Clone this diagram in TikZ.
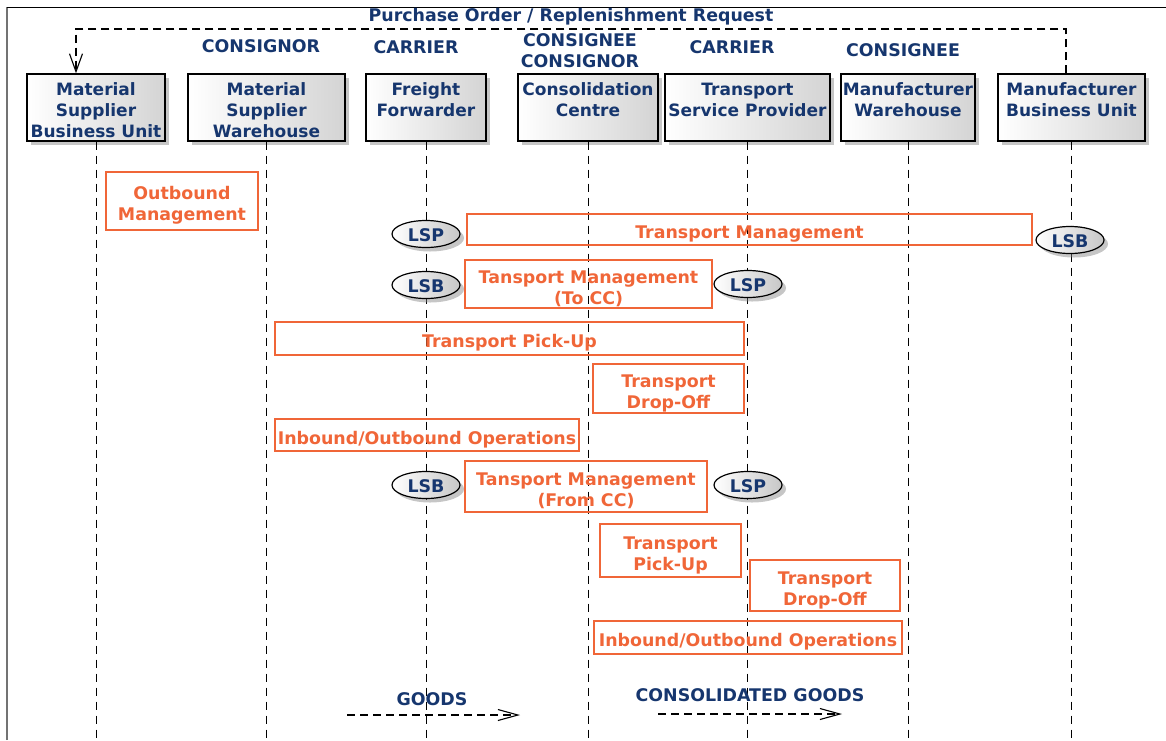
\documentclass[tikz,border=0pt]{standalone}
\usepackage{fontspec}
\setmainfont{DejaVu Sans}
\usetikzlibrary{shapes.geometric,shadows,arrows.meta}
\definecolor{navy}{RGB}{22,54,110}
\definecolor{orng}{RGB}{240,102,56}
\begin{document}
\begin{tikzpicture}[x=1pt,y=-1pt,
  font=\bfseries\fontsize{17.4}{21}\selectfont,
  actor/.style={draw=black, line width=1.4pt, left color=white, right color=black!17,
    drop shadow={shadow xshift=4pt,shadow yshift=-4pt,opacity=0.45}, inner sep=0pt, minimum height=67},
  hdr/.style={text=navy, align=center, inner sep=0pt, anchor=north, font=\bfseries\fontsize{17}{21}\selectfont},
  role/.style={text=navy, inner sep=0pt},
  act/.style={draw=orng, line width=2.8pt, inner sep=0pt},
  acttext/.style={text=orng, align=center, inner sep=0pt, yshift=-4.5pt},
  lsx/.style={ellipse, draw=black, line width=1.2pt, left color=white, right color=black!22,
    minimum width=68, minimum height=27, inner sep=0pt, text=navy,
    drop shadow={shadow xshift=4pt,shadow yshift=-4pt,opacity=0.45}},
  lsxtext/.style={text=navy, inner sep=0pt, yshift=-1.5pt},
  lifeline/.style={draw=black, line width=1pt, dash pattern=on 8pt off 6pt},
  msg/.style={draw=black, line width=1.1pt, dash pattern=on 8pt off 5pt},
]
\useasboundingbox (0,0) rectangle (1166,740);
% frame
\draw[black!55, line width=2.2pt] (7,740) -- (7,7);
\draw[black, line width=1pt] (7,7) -- (1166,7);

% header boxes
\node[actor, minimum width=138] (b1) at (96,107.5) {};
\node[actor, minimum width=157] (b2) at (266.5,107.5) {};
\node[actor, minimum width=120] (b3) at (426,107.5) {};
\node[actor, minimum width=140] (b4) at (588,107.5) {};
\node[actor, minimum width=165] (b5) at (747.5,107.5) {};
\node[actor, minimum width=134] (b6) at (908,107.5) {};
\node[actor, minimum width=147] (b7) at (1071.5,107.5) {};

\node[hdr] (t1) at ([yshift=-9.5pt]b1.north) {Material\\Supplier\\Business Unit};
\node[hdr] (t2) at ([yshift=-9.5pt]b2.north) {Material\\Supplier\\Warehouse};
\node[hdr] (t3) at ([yshift=-9.5pt]b3.north) {Freight\\Forwarder};
\node[hdr] (t4) at ([yshift=-9.5pt]b4.north) {Consolidation\\Centre};
\node[hdr] (t5) at ([yshift=-9.5pt]b5.north) {Transport\\Service Provider};
\node[hdr] (t6) at ([yshift=-9.5pt]b6.north) {Manufacturer\\Warehouse};
\node[hdr] (t7) at ([yshift=-9.5pt]b7.north) {Manufacturer\\Business Unit};

% role labels
\node[role] (r2) at (261,46) {CONSIGNOR};
\node[role] (r3) at (416,47) {CARRIER};
\node[role] (r4a) at (580,40) {CONSIGNEE};
\node[role] (r4b) at (580,61) {CONSIGNOR};
\node[role] (r5) at (732,47) {CARRIER};
\node[role] (r6) at (903,50) {CONSIGNEE};

% purchase order message
\node[role] (po) at (571,17) {Purchase Order / Replenishment Request};
\coordinate (pr) at (1066,29);
\coordinate (pl) at (76,29);
\draw[msg, -{Straight Barb[length=18pt,width=13pt]}] (b7.north -| pr) -- (pr) -- (pl) -- (pl |- b1.north);

% lifelines
\coordinate (bot) at (0,740);
\foreach \b in {b1,b2,b3,b4,b5,b6,b7}
  \draw[lifeline] (\b.south) -- (\b.south |- bot);

% activities
\node[act, minimum width=152, minimum height=58] (a1) at (182,201) {};
\node[acttext] at (a1.center) {Outbound\\Management};
\node[act, minimum width=565, minimum height=31] (a2) at (749.5,229.5) {};
\node[acttext] at (a2.center) {Transport Management};
\node[act, minimum width=247, minimum height=48] (a3) at (588.5,284) {};
\node[acttext] at (a3.center) {Tansport Management\\(To CC)};
\node[act, minimum width=469, minimum height=33] (a4) at (509.5,338.5) {};
\node[acttext] at (a4.center) {Transport Pick-Up};
\node[act, minimum width=151, minimum height=49] (a5) at (668.5,388.5) {};
\node[acttext] at (a5.center) {Transport\\Drop-Off};
\node[act, minimum width=304, minimum height=32] (a6) at (427,435) {};
\node[acttext] at (a6.center) {Inbound/Outbound Operations};
\node[act, minimum width=242, minimum height=51] (a7) at (586,486.5) {};
\node[acttext] at (a7.center) {Tansport Management\\(From CC)};
\node[act, minimum width=141, minimum height=53] (a8) at (670.5,550.5) {};
\node[acttext] at (a8.center) {Transport\\Pick-Up};
\node[act, minimum width=150, minimum height=51] (a9) at (825,585.5) {};
\node[acttext] at (a9.center) {Transport\\Drop-Off};
\node[act, minimum width=308, minimum height=33] (a10) at (748,637.5) {};
\node[acttext] at (a10.center) {Inbound/Outbound Operations};

% LSP / LSB ellipses
\node[lsx] (e1) at (426,234) {};
\node[lsxtext] at (e1.center) {LSP};
\node[lsx] (e2) at (1070,240) {};
\node[lsxtext] at (e2.center) {LSB};
\node[lsx] (e3) at (426,285) {};
\node[lsxtext] at (e3.center) {LSB};
\node[lsx] (e4) at (748,284) {};
\node[lsxtext] at (e4.center) {LSP};
\node[lsx] (e5) at (426,485) {};
\node[lsxtext] at (e5.center) {LSB};
\node[lsx] (e6) at (748,485) {};
\node[lsxtext] at (e6.center) {LSP};

% goods flows
\node[role] (g1) at (432,699) {GOODS};
\coordinate (g1s) at (347,715);
\coordinate (g1e) at (520,715);
\draw[msg, -{Straight Barb[length=20pt,width=11pt]}] (g1s) -- (g1e);
\node[role] (g2) at (750,695) {CONSOLIDATED GOODS};
\coordinate (g2s) at (658,714);
\coordinate (g2e) at (842,714);
\draw[msg, -{Straight Barb[length=20pt,width=11pt]}] (g2s) -- (g2e);
\end{tikzpicture}
\end{document}
